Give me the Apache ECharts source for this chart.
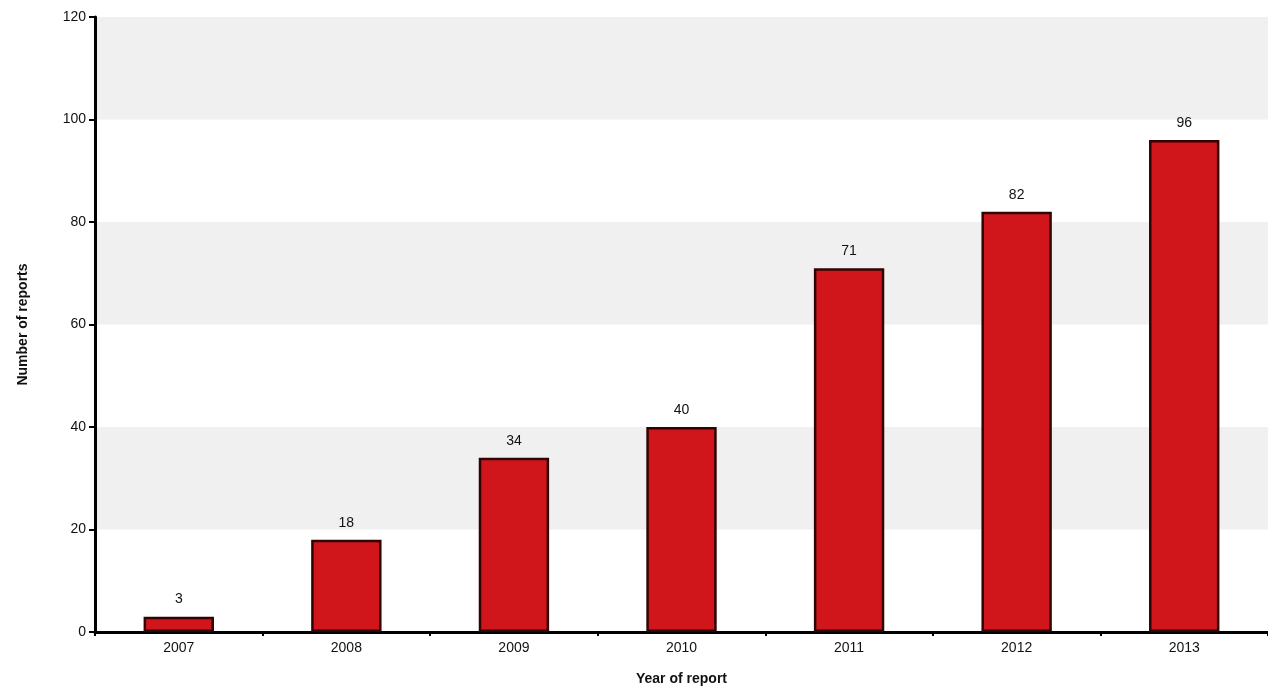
<!DOCTYPE html>
<html>
<head>
<meta charset="utf-8">
<script src="https://cdn.jsdelivr.net/npm/echarts@6/dist/echarts.min.js"></script>
<style>html,body{margin:0;padding:0;background:#fff;}#c{width:1268px;height:686px;}</style>
</head>
<body>
<div id="c"></div>
<script>
const categories = ['2007', '2008', '2009', '2010', '2011', '2012', '2013'];
const reports = [3, 18, 34, 40, 71, 82, 96];
const yTicks = [0, 20, 40, 60, 80, 100, 120];

const chart = echarts.init(document.getElementById('c'));
chart.setOption({
  animation: false,
  grid: { left: 95, right: 0, top: 17, bottom: 54, containLabel: false, outerBoundsMode: 'none' },
  xAxis: {
    type: 'category',
    data: categories,
    name: 'Year of report',
    nameLocation: 'middle',
    nameGap: 40,
    nameTextStyle: { fontFamily: 'Liberation Sans, Arial', fontSize: 14, fontWeight: 'bold', color: '#111' },
    axisLine: { lineStyle: { color: '#000', width: 3 } },
    axisTick: { show: true, alignWithLabel: false, length: 4, lineStyle: { color: '#000', width: 2 } },
    axisLabel: { fontFamily: 'Liberation Sans, Arial', fontSize: 14, color: '#111', margin: 9 },
    splitLine: { show: false }
  },
  yAxis: {
    type: 'value',
    min: 0, max: 120, interval: 20,
    name: 'Number of reports',
    nameLocation: 'middle',
    nameGap: 65,
    nameRotate: 90,
    nameTextStyle: { fontFamily: 'Liberation Sans, Arial', fontSize: 14, fontWeight: 'bold', color: '#111' },
    axisLine: { show: true, lineStyle: { color: '#000', width: 3 } },
    axisTick: { show: true, length: 6, lineStyle: { color: '#000', width: 2 } },
    axisLabel: {
      fontFamily: 'Liberation Sans, Arial', fontSize: 14, color: '#111', margin: 9,
      formatter: v => yTicks.includes(v) ? String(v) : ''
    },
    splitLine: { show: false },
    splitArea: { show: true, areaStyle: { color: ['#ffffff', '#f0f0f0'] } }
  },
  series: [{
    type: 'bar',
    data: reports,
    barWidth: '42%',
    itemStyle: { color: '#d0161b', borderColor: '#300404', borderWidth: 2.5 },
    label: {
      show: true, position: 'top', distance: 10,
      fontFamily: 'Liberation Sans, Arial', fontSize: 14, color: '#111'
    }
  }]
});
</script>
</body>
</html>
